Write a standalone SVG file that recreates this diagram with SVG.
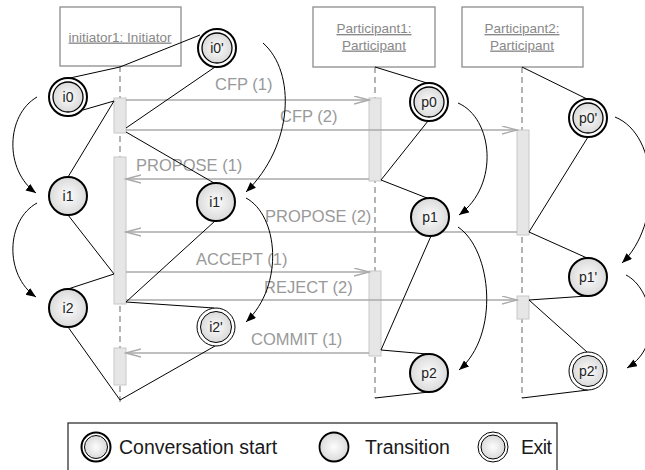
<svg xmlns="http://www.w3.org/2000/svg" width="645" height="470" viewBox="0 0 645 470">
<style>
text{font-family:"Liberation Sans",Arial,sans-serif}
.life{fill:#fff;stroke:#8c8c8c;stroke-width:1.3}
.lt{font-size:13.5px;fill:#888;text-anchor:middle;text-decoration:underline}
.dash{stroke:#8c8c8c;stroke-width:1.3;stroke-dasharray:6 4;fill:none}
.bar{fill:#e6e6e6;stroke:#c8c8c8;stroke-width:1}
.msg{stroke:#aaa;stroke-width:1.5;fill:none;marker-end:url(#open)}
.ml{font-size:16.5px;fill:#999}
.tr{stroke:#000;stroke-width:1;fill:none}
.cv{stroke:#000;stroke-width:1;fill:none;marker-end:url(#solid)}
.ring{fill:#fff;stroke:#000;stroke-width:2}
.core{fill:url(#g);stroke:#000;stroke-width:1.3}
.n{fill:url(#g);stroke:#000;stroke-width:2}
.xo{fill:#fff;stroke:#000;stroke-width:1}
.xi{fill:url(#g);stroke:#000;stroke-width:1}
.nt{font-size:14px;fill:#222;text-anchor:middle}
.lg{font-size:19.5px;fill:#1a1a1a}
</style>
<defs>
<radialGradient id="g" cx="50%" cy="50%" r="50%">
<stop offset="0" stop-color="#fdfdfd"/>
<stop offset="1" stop-color="#dadada"/>
</radialGradient>
<marker id="open" markerUnits="userSpaceOnUse" markerWidth="17" markerHeight="10" refX="15" refY="4.5" orient="auto">
<path d="M0,0.5 L15,4.5 L0,8.5" fill="none" stroke="#aaa" stroke-width="1.3"/>
</marker>
<marker id="solid" markerUnits="userSpaceOnUse" markerWidth="11" markerHeight="9" refX="10" refY="4" orient="auto">
<path d="M0,0 L10,4 L0,8 z" fill="#000"/>
</marker>
</defs>

<g id="lifelines">
<g id="initiator1">
<rect class="life" x="60" y="7" width="121" height="59"/>
<text class="lt" x="120" y="41.5">initiator1: Initiator</text>
<line class="dash" x1="120" y1="66" x2="120" y2="403"/>
<rect class="bar" x="114" y="98" width="12" height="35"/>
<rect class="bar" x="114" y="157" width="12" height="147"/>
<rect class="bar" x="114" y="348" width="12" height="37"/>
</g>
<g id="participant1">
<rect class="life" x="313" y="7" width="122" height="60"/>
<text class="lt" x="374" y="33">Participant1:</text>
<text class="lt" x="374" y="49.5">Participant</text>
<line class="dash" x1="375" y1="67" x2="375" y2="398"/>
<rect class="bar" x="369" y="98" width="12" height="83"/>
<rect class="bar" x="369" y="271" width="12" height="85"/>
</g>
<g id="participant2">
<rect class="life" x="462" y="7" width="121" height="60"/>
<text class="lt" x="522" y="33">Participant2:</text>
<text class="lt" x="522" y="49.5">Participant</text>
<line class="dash" x1="522" y1="67" x2="522" y2="398"/>
<rect class="bar" x="517" y="130" width="12" height="105"/>
<rect class="bar" x="517" y="296" width="12" height="23"/>
</g>
</g>

<g id="messages">
<line class="msg" x1="126" y1="100" x2="369" y2="100"/>
<text class="ml" x="215" y="90">CFP (1)</text>
<line class="msg" x1="126" y1="130" x2="517" y2="130"/>
<text class="ml" x="280" y="122">CFP (2)</text>
<line class="msg" x1="369" y1="179" x2="126" y2="179"/>
<text class="ml" x="136" y="171">PROPOSE (1)</text>
<line class="msg" x1="517" y1="232" x2="126" y2="232"/>
<text class="ml" x="265" y="221.5">PROPOSE (2)</text>
<line class="msg" x1="126" y1="272" x2="369" y2="272"/>
<text class="ml" x="196" y="265">ACCEPT (1)</text>
<line class="msg" x1="126" y1="300" x2="517" y2="300"/>
<text class="ml" x="264" y="293">REJECT (2)</text>
<line class="msg" x1="369" y1="353" x2="126" y2="353"/>
<text class="ml" x="251" y="345">COMMIT (1)</text>
</g>

<g id="connectors">
<path class="tr" d="M120,67 L70,78"/>
<path class="tr" d="M120,67 L200,35"/>
<path class="tr" d="M83,110 L114,101"/>
<path class="tr" d="M114,101 L68,177"/>
<path class="tr" d="M215,67 L126,128"/>
<path class="tr" d="M126,132 L214,183"/>
<path class="tr" d="M68,215 L114,274"/>
<path class="tr" d="M68,289 L114,274"/>
<path class="tr" d="M215,221 L126,302"/>
<path class="tr" d="M126,302 L214,308"/>
<path class="tr" d="M68,327 L120,400"/>
<path class="tr" d="M215,346 L120,400"/>
<path class="tr" d="M375,67 L427,83"/>
<path class="tr" d="M428,121 L381,180"/>
<path class="tr" d="M381,180 L427,198"/>
<path class="tr" d="M431,236 L381,350"/>
<path class="tr" d="M381,350 L427,354"/>
<path class="tr" d="M429,392 L375,398"/>
<path class="tr" d="M522,67 L587,99"/>
<path class="tr" d="M588,137 L529,232"/>
<path class="tr" d="M529,232 L587,258"/>
<path class="tr" d="M587,296 L529,300"/>
<path class="tr" d="M529,300 L587,352"/>
<path class="tr" d="M588,390 L522,398"/>
<path class="cv" d="M37,97 C6,115 4,170 36,193"/>
<path class="cv" d="M37,203 C6,220 4,275 36,297"/>
<path class="cv" d="M263,43 C296,72 294,145 246,192"/>
<path class="cv" d="M246,198 C278,215 285,285 246,322"/>
<path class="cv" d="M458,103 C493,118 500,185 459,215"/>
<path class="cv" d="M458,227 C492,250 500,335 459,370"/>
<path class="cv" d="M615,117 C660,135 662,225 622,263"/>
<path class="cv" d="M626,275 C652,288 665,345 627,368"/>
</g>

<g id="i0"><circle class="ring" cx="68" cy="97" r="19"/><circle class="core" cx="68" cy="97" r="15"/><text class="nt" x="68" y="102">i0</text></g>
<g id="i0p"><circle class="ring" cx="217" cy="48" r="19"/><circle class="core" cx="217" cy="48" r="15"/><text class="nt" x="217" y="53">i0'</text></g>
<g id="i1"><circle class="n" cx="68" cy="196" r="19"/><text class="nt" x="68" y="201">i1</text></g>
<g id="i1p"><circle class="n" cx="216" cy="202" r="19"/><text class="nt" x="216" y="207">i1'</text></g>
<g id="i2"><circle class="n" cx="68" cy="308" r="19"/><text class="nt" x="68" y="313">i2</text></g>
<g id="i2p"><circle class="xo" cx="216" cy="327" r="19"/><circle class="xi" cx="216" cy="327" r="15.5"/><text class="nt" x="216" y="332">i2'</text></g>
<g id="p0"><circle class="ring" cx="429" cy="102" r="19"/><circle class="core" cx="429" cy="102" r="15"/><text class="nt" x="429" y="107">p0</text></g>
<g id="p0p"><circle class="ring" cx="588" cy="118" r="19"/><circle class="core" cx="588" cy="118" r="15"/><text class="nt" x="588" y="123">p0'</text></g>
<g id="p1"><circle class="n" cx="430" cy="217" r="19"/><text class="nt" x="430" y="222">p1</text></g>
<g id="p1p"><circle class="n" cx="588" cy="277" r="19"/><text class="nt" x="588" y="282">p1'</text></g>
<g id="p2"><circle class="n" cx="429" cy="373" r="19"/><text class="nt" x="429" y="378">p2</text></g>
<g id="p2p"><circle class="xo" cx="588" cy="371" r="19"/><circle class="xi" cx="588" cy="371" r="15.5"/><text class="nt" x="588" y="376">p2'</text></g>

<g id="legend">
<rect x="68" y="423" width="489" height="60" fill="#fff" stroke="#222" stroke-width="1.2"/>
<circle cx="96" cy="447" r="14.5" fill="#fff" stroke="#000" stroke-width="2"/>
<circle cx="96" cy="447" r="11.5" fill="url(#g)" stroke="#000" stroke-width="1"/>
<text class="lg" x="119" y="454">Conversation start</text>
<circle cx="334" cy="447" r="14.5" fill="url(#g)" stroke="#000" stroke-width="1.8"/>
<text class="lg" x="365" y="454">Transition</text>
<circle cx="493" cy="447" r="15" fill="#fff" stroke="#000" stroke-width="1"/>
<circle cx="493" cy="447" r="12" fill="url(#g)" stroke="#000" stroke-width="1"/>
<text class="lg" x="521" y="454" textLength="31">Exit</text>
</g>
</svg>
